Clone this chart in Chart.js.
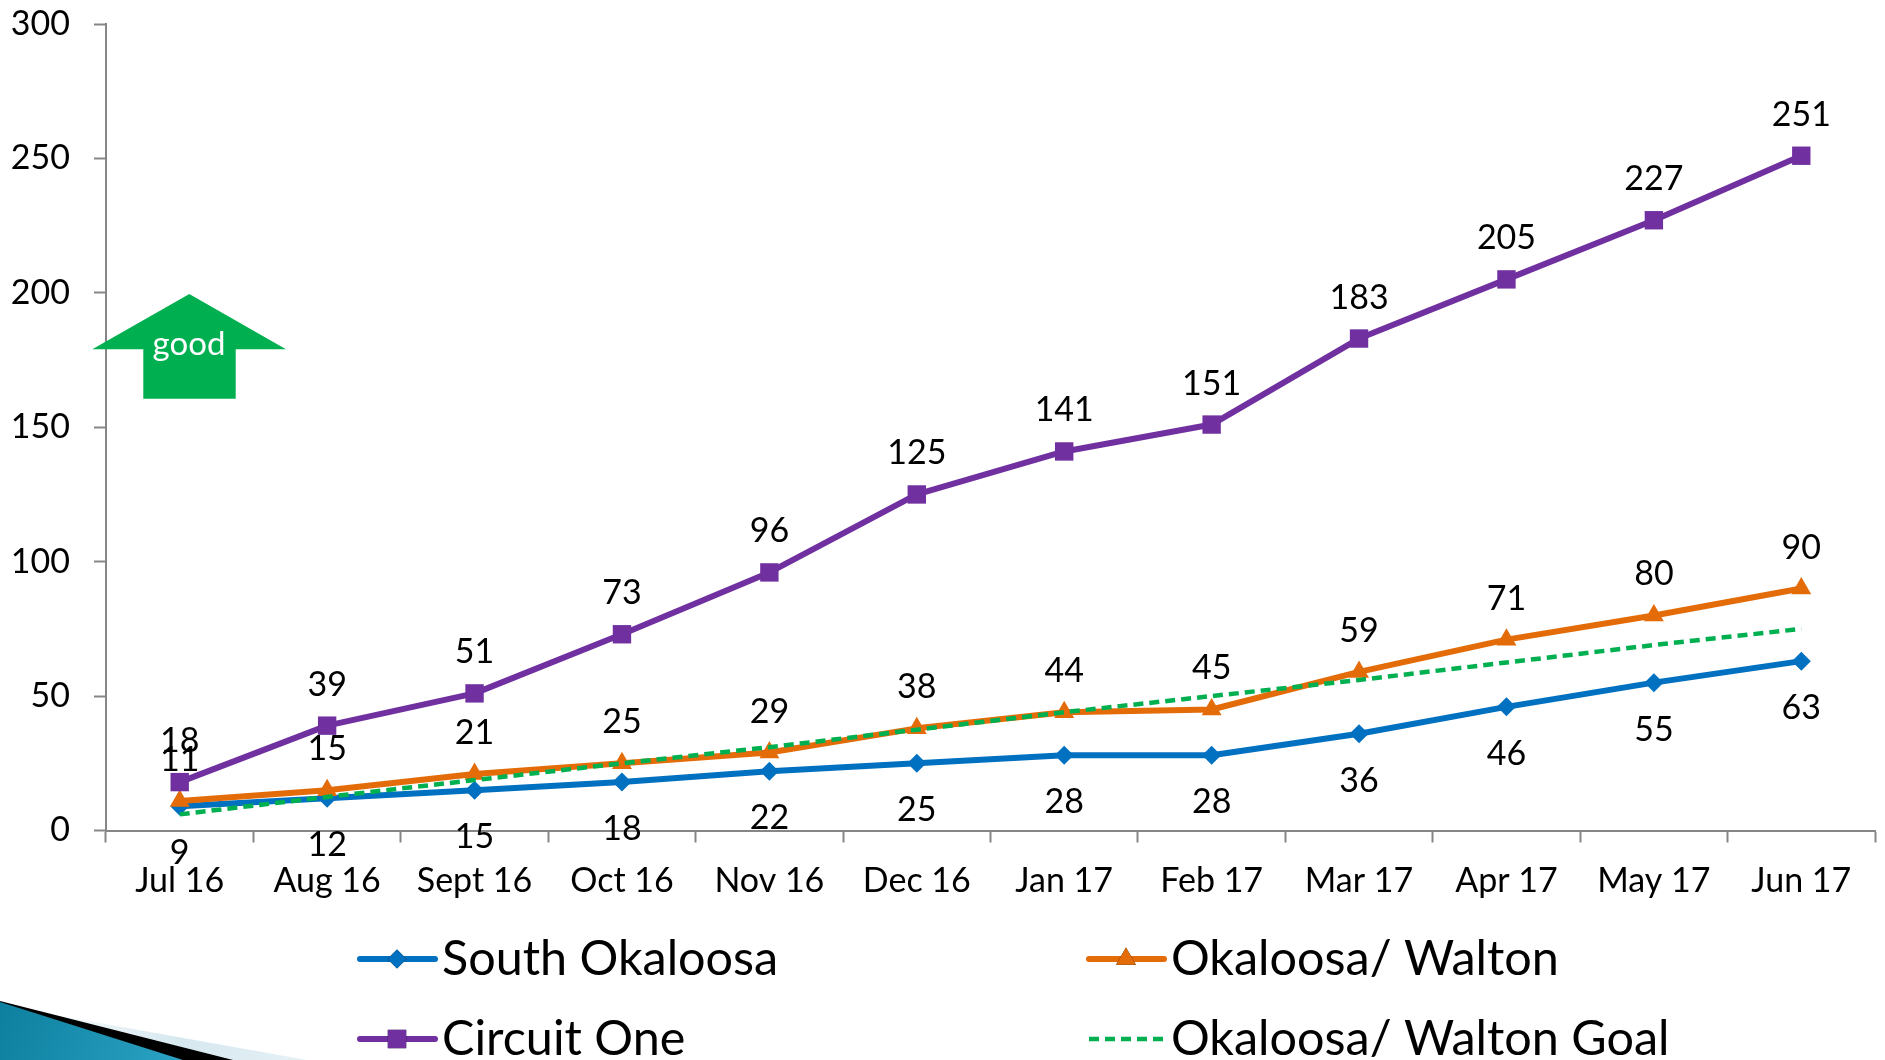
<!DOCTYPE html>
<html><head><meta charset="utf-8">
<style>html,body{margin:0;padding:0;background:#fff;overflow:hidden}#w{width:1885px;height:1060px}</style>
<script src="https://cdn.jsdelivr.net/npm/chart.js@4"></script>
</head><body><div id="w"><canvas id="c" width="1885" height="1060"></canvas></div>
<script>
const categories = ['Jul 16','Aug 16','Sept 16','Oct 16','Nov 16','Dec 16','Jan 17','Feb 17','Mar 17','Apr 17','May 17','Jun 17'];
const southOkaloosa = [9,12,15,18,22,25,28,28,36,46,55,63];
const okaloosaWalton = [11,15,21,25,29,38,44,45,59,71,80,90];
const circuitOne = [18,39,51,73,96,125,141,151,183,205,227,251];
const okaloosaWaltonGoal = [6,12.5,18.75,25,31,37.5,44,50,56,62.5,69,75];
const yTicks = [0,50,100,150,200,250,300];

const FONT = 'Lato, "Open Sans", sans-serif';
const BLUE='#0070C0', ORANGE='#E36C09', PURPLE='#7030A0', GREEN='#00B050', AXIS='#868686';

const backdrop = { id:'backdrop', beforeDraw(ch){
  const g = ch.ctx; g.save();
  const poly=(pts,f)=>{g.beginPath();pts.forEach((p,i)=>i?g.lineTo(...p):g.moveTo(...p));g.closePath();g.fillStyle=f;g.fill();};
  let lt = g.createLinearGradient(60,1015,307,1060);
  lt.addColorStop(0,'#f4f9fb'); lt.addColorStop(.5,'#d6e8ef'); lt.addColorStop(1,'#e6f1f5');
  poly([[60,1016],[307,1060],[0,1060]],lt);
  poly([[0,1001],[233,1060],[0,1060]],'#000');
  let lg = g.createLinearGradient(0,1000,180,1060);
  lg.addColorStop(0,'#0d7f9e'); lg.addColorStop(1,'#2ba2c4');
  poly([[0,1002],[183,1060],[0,1060]],lg);
  g.restore();
}};

const overlays = { id:'overlays', afterDatasetsDraw(ch){
  const g = ch.ctx; g.save();
  // good arrow
  g.beginPath();
  [[189.3,294],[286,349.3],[235.7,349.3],[235.7,398.7],[143.3,398.7],[143.3,349.3],[92.3,349.3]].forEach((p,i)=>i?g.lineTo(...p):g.moveTo(...p));
  g.closePath(); g.fillStyle=GREEN; g.fill();
  g.fillStyle='#fff'; g.font='33px '+FONT; g.textAlign='center'; g.textBaseline='middle';
  g.fillText('good',189,344);

  // data labels
  g.fillStyle='#000'; g.font='34px '+FONT;
  const offs=[47,-41,-41,null];
  ch.data.datasets.forEach((ds,di)=>{
    if(offs[di]===null) return;
    ch.getDatasetMeta(di).data.forEach((pt,i)=>g.fillText(String(ds.data[i]),pt.x,pt.y+offs[di]));
  });

  // legend, two columns
  const slots=[[357,959],[1086,959],[357,1039],[1086,1039]];
  ch.data.datasets.forEach((ds,di)=>{
    const [x,y]=slots[di];
    g.strokeStyle=ds.borderColor; g.lineWidth=ds.borderWidth; g.lineCap=ds.borderDash?'butt':'round';
    g.setLineDash(ds.borderDash||[]);
    g.beginPath(); g.moveTo(x+3,y); g.lineTo(x+78,y); g.stroke(); g.setLineDash([]);
    if(ds.pointRadius>0){
      Chart.helpers.drawPoint(g,{pointStyle:ds.pointStyle,rotation:0,radius:ds.pointRadius,borderWidth:0},x+40,y);
      g.fillStyle=ds.pointBackgroundColor; g.fill();
    }
    g.fillStyle='#000'; g.font='48.5px '+FONT; g.textAlign='left'; g.textBaseline='middle';
    g.fillText(ds.label,x+85,y);
  });
  g.restore();
}};

const line=(label,data,color,w,style,r,order,dash)=>({label,data,borderColor:color,backgroundColor:color,borderWidth:w,
  pointStyle:style,pointRadius:r,pointHoverRadius:r,pointBackgroundColor:color,pointBorderColor:color,pointBorderWidth:0,
  tension:0,fill:false,order,borderDash:dash,borderCapStyle:dash?'butt':'round',borderJoinStyle:'round',clip:false});

new Chart(document.getElementById('c'),{
  type:'line',
  data:{labels:categories,datasets:[
    line('South Okaloosa',southOkaloosa,BLUE,6,'rectRot',9.5,4),
    line('Okaloosa/ Walton',okaloosaWalton,ORANGE,6,'triangle',11.5,3),
    line('Circuit One',circuitOne,PURPLE,6,'rect',13,2),
    line('Okaloosa/ Walton Goal',okaloosaWaltonGoal,GREEN,4.5,false,0,1,[10,6])
  ]},
  options:{
    responsive:false,animation:false,
    layout:{autoPadding:false,padding:{left:0,top:24,right:10,bottom:0}},
    plugins:{legend:{display:false},tooltip:{enabled:false}},
    scales:{
      x:{type:'category',offset:true,
        grid:{display:true,drawOnChartArea:false,drawTicks:true,tickLength:12,tickColor:AXIS,tickWidth:2,offset:true},
        border:{color:AXIS,width:2},
        ticks:{color:'#000',font:{family:FONT,size:34},padding:18,maxRotation:0,autoSkip:false},
        afterFit(s){s.height=1060-830.5;s.paddingLeft=0;s.paddingRight=0;}
      },
      y:{min:0,max:300,
        afterBuildTicks(s){s.ticks=yTicks.map(v=>({value:v}));},
        grid:{display:true,drawOnChartArea:false,drawTicks:true,tickLength:12,tickColor:AXIS,tickWidth:2},
        border:{color:AXIS,width:2},
        ticks:{color:'#000',font:{family:FONT,size:34},padding:24},
        afterFit(s){s.width=106;s.paddingTop=0;s.paddingBottom=0;}
      }
    }
  },
  plugins:[backdrop,overlays]
});
</script></body></html>
